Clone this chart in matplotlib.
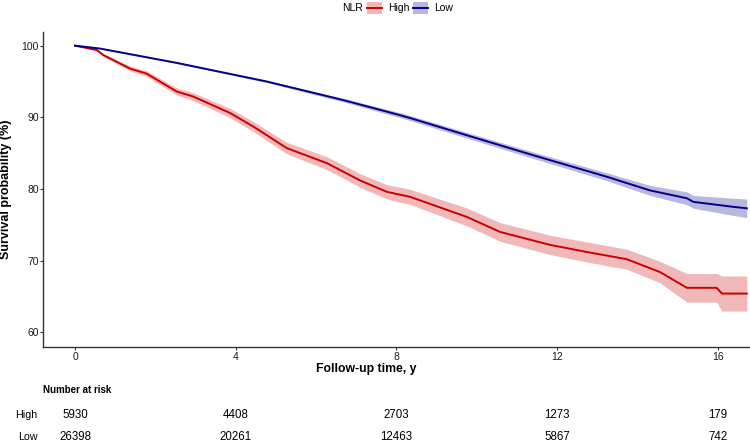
import matplotlib
matplotlib.use("Agg")
import matplotlib.pyplot as plt
from matplotlib.patches import Rectangle
from matplotlib.lines import Line2D
from matplotlib.transforms import blended_transform_factory

plt.rcParams['font.family'] = ['Liberation Sans', 'DejaVu Sans']

# survival curves (time in years, survival in %)
t_high = [0, 0.54, 0.70, 1.37, 1.78, 2.53, 2.94, 3.86, 4.44, 5.27, 6.27, 7.09, 7.76,
          8.09, 8.34, 9.75, 10.58, 11.82, 12.74, 13.73, 14.56, 15.23, 15.97, 16.10, 16.72]
s_high = [100, 99.4, 98.7, 96.8, 96.1, 93.6, 92.9, 90.6, 88.7, 85.7, 83.6, 81.2, 79.6,
          79.2, 78.9, 76.1, 74.0, 72.2, 71.2, 70.2, 68.4, 66.2, 66.2, 65.4, 65.4]
ci_high = [0, 0.15, 0.2, 0.35, 0.4, 0.5, 0.55, 0.65, 0.7, 0.8, 0.9, 0.95, 1.0,
           1.05, 1.05, 1.25, 1.3, 1.35, 1.4, 1.4, 1.5, 2.0, 2.0, 2.45, 2.45]

t_low = [0, 0.62, 2.53, 4.77, 6.68, 8.09, 8.34, 9.75, 11.41, 13.24, 14.31, 15.23,
         15.39, 16.39, 16.72]
s_low = [100, 99.6, 97.6, 95.0, 92.4, 90.3, 89.9, 87.5, 84.7, 81.7, 79.8, 78.7,
         78.2, 77.5, 77.3]
ci_low = [0, 0.05, 0.1, 0.15, 0.25, 0.35, 0.35, 0.4, 0.45, 0.55, 0.7, 0.9,
          0.9, 1.2, 1.3]

# number at risk table
groups = ['High', 'Low']
risk_times = [0, 4, 8, 12, 16]
risk_high = [5930, 4408, 2703, 1273, 179]
risk_low = [26398, 20261, 12463, 5867, 742]

red = '#CC0000'
blue = '#00008B'
axcol = '#333333'
W, H = 750, 442


def fx(px):
    return px / W


def fy(py):
    return 1 - py / H


fig = plt.figure(figsize=(7.5, 4.42), dpi=100)
ax = fig.add_axes([fx(43.3), fy(347.3), 1 - fx(43.3), fy(31.7) - fy(347.3)])

for t, s, ci, col in [(t_high, s_high, ci_high, red), (t_low, s_low, ci_low, blue)]:
    lo = [a - b for a, b in zip(s, ci)]
    hi = [a + b for a, b in zip(s, ci)]
    ax.fill_between(t, lo, hi, color=col, alpha=0.28, linewidth=0)
    ax.plot(t, s, color=col, linewidth=1.4)

ax.set_xlim(-0.79, 16.8)
ax.set_ylim(57.9, 101.95)
ax.set_xticks(risk_times)
ax.set_yticks([60, 70, 80, 90, 100])
for side in ['top', 'right']:
    ax.spines[side].set_visible(False)
for side in ['left', 'bottom']:
    ax.spines[side].set_color(axcol)
    ax.spines[side].set_linewidth(1.0)
ax.tick_params(colors=axcol, length=2.2, width=0.8, labelsize=7.5, labelcolor='#1a1a1a', pad=1.0)

fig.text(fx(366), fy(369), 'Follow-up time, y', fontsize=8.8, fontweight='bold',
         ha='center', va='center')
fig.text(fx(6), (fy(31.7) + fy(347.3)) / 2, 'Survival probability (%)', fontsize=9,
         fontweight='bold', rotation=90, ha='center', va='center')

# legend on top, drawn by hand so the title sits to the left
fig.text(fx(342), fy(8), 'NLR', fontsize=7.5, ha='left', va='center')
for x0, col, lab in [(367, red, groups[0]), (413, blue, groups[1])]:
    fig.add_artist(Rectangle((fx(x0), fy(14)), fx(15), fy(2) - fy(14),
                             transform=fig.transFigure, facecolor=col, alpha=0.28,
                             linewidth=0))
    fig.add_artist(Line2D([fx(x0), fx(x0 + 15)], [fy(8), fy(8)],
                          transform=fig.transFigure, color=col, linewidth=1.4))
    fig.text(fx(x0 + 21), fy(8), lab, fontsize=7.5, ha='left', va='center')

# risk table
tr = blended_transform_factory(ax.transData, fig.transFigure)
fig.text(fx(43), fy(390), 'Number at risk', fontsize=7, fontweight='bold', va='center')
for row_y, name, counts in [(415, groups[0], risk_high), (436.7, groups[1], risk_low)]:
    fig.text(fx(37.5), fy(row_y), name, fontsize=7.7, ha='right', va='center')
    for x, n in zip(risk_times, counts):
        ax.text(x, fy(row_y), str(n), transform=tr, fontsize=8.3, ha='center', va='center')

fig.savefig('out.png', dpi=100)
